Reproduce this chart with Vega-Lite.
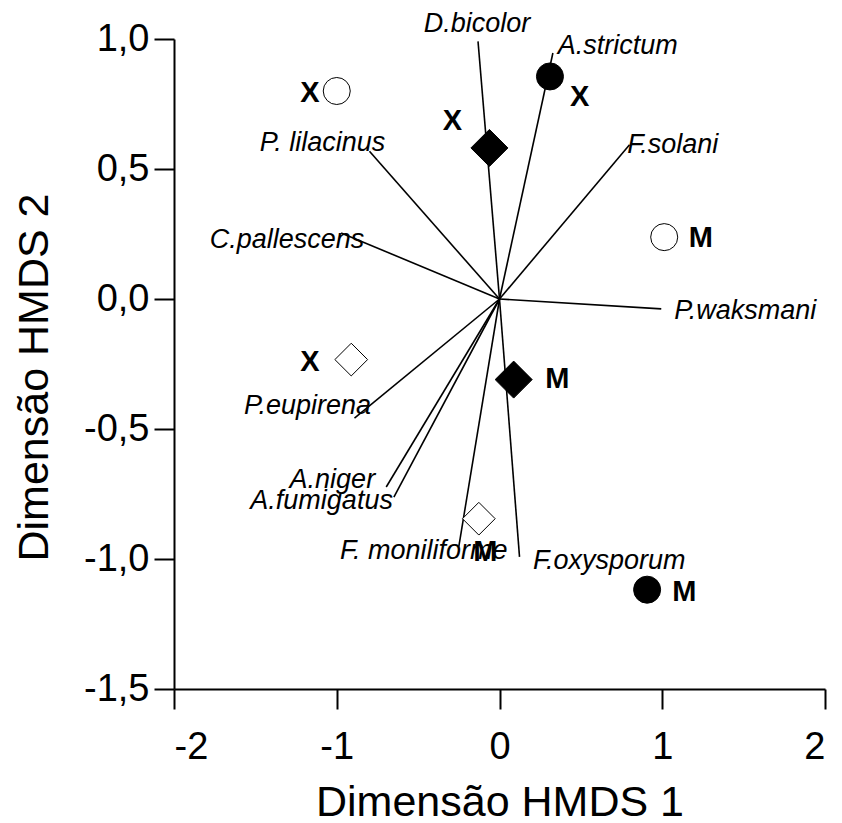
{
  "$schema": "https://vega.github.io/schema/vega-lite/v6.json",
  "autosize": "none",
  "width": 651,
  "height": 650,
  "padding": {"left": 174, "top": 39, "right": 17, "bottom": 134},
  "background": "white",
  "config": {
    "view": {"stroke": null},
    "font": "Liberation Sans",
    "axis": {
      "grid": false,
      "domainColor": "black",
      "domainWidth": 2,
      "tickColor": "black",
      "tickWidth": 2,
      "tickSize": 20,
      "labelColor": "black",
      "labelFont": "Liberation Sans",
      "labelFontSize": 38,
      "titleColor": "black",
      "titleFont": "Liberation Sans",
      "titleFontSize": 43,
      "titleFontWeight": "normal"
    }
  },
  "datasets": {
    "vetores": [
      {"especie": "D.bicolor", "x": -0.132, "y": 0.991, "lx": -0.138, "ly": 1.059},
      {"especie": "A.strictum", "x": 0.328, "y": 0.946, "lx": 0.727, "ly": 0.972},
      {"especie": "F.solani", "x": 0.799, "y": 0.593, "lx": 1.065, "ly": 0.593},
      {"especie": "P.waksmani", "x": 0.994, "y": -0.038, "lx": 1.51, "ly": -0.048},
      {"especie": "P. lilacinus", "x": -0.799, "y": 0.568, "lx": -1.088, "ly": 0.6},
      {"especie": "C.pallescens", "x": -0.973, "y": 0.254, "lx": -1.306, "ly": 0.228},
      {"especie": "P.eupirena", "x": -0.891, "y": -0.458, "lx": -1.18, "ly": -0.413},
      {"especie": "A.niger", "x": -0.696, "y": -0.723, "lx": -1.027, "ly": -0.695},
      {"especie": "A.fumigatus", "x": -0.649, "y": -0.762, "lx": -1.093, "ly": -0.778},
      {"especie": "F. moniliforme", "x": -0.25, "y": -0.952, "lx": -0.466, "ly": -0.971},
      {"especie": "F.oxysporum", "x": 0.123, "y": -0.992, "lx": 0.674, "ly": -1.009}
    ],
    "amostras": [
      {"x": -1.0, "y": 0.8, "forma": "circle", "preench": "aberto", "rotulo": "X", "lx": -1.165, "ly": 0.792},
      {"x": 0.31, "y": 0.856, "forma": "circle", "preench": "cheio", "rotulo": "X", "lx": 0.493, "ly": 0.777},
      {"x": -0.062, "y": 0.581, "forma": "diamond", "preench": "cheio", "rotulo": "X", "lx": -0.29, "ly": 0.683},
      {"x": 1.012, "y": 0.238, "forma": "circle", "preench": "aberto", "rotulo": "M", "lx": 1.237, "ly": 0.235},
      {"x": -0.911, "y": -0.233, "forma": "diamond", "preench": "aberto", "rotulo": "X", "lx": -1.165, "ly": -0.242},
      {"x": 0.087, "y": -0.31, "forma": "diamond", "preench": "cheio", "rotulo": "M", "lx": 0.355, "ly": -0.308},
      {"x": -0.127, "y": -0.845, "forma": "diamond", "preench": "aberto", "rotulo": "M", "lx": -0.087, "ly": -0.973},
      {"x": 0.907, "y": -1.118, "forma": "circle", "preench": "cheio", "rotulo": "M", "lx": 1.135, "ly": -1.125}
    ]
  },
  "layer": [
    {
      "data": {"name": "vetores"},
      "mark": {"type": "rule", "color": "black", "strokeWidth": 1.6},
      "encoding": {
        "x": {
          "field": "x", "type": "quantitative",
          "scale": {"domain": [-2, 2], "nice": false, "zero": false},
          "axis": {
            "values": [-2, -1, 0, 1, 2],
            "title": "Dimensão HMDS 1",
            "labelExpr": "(datum.value < 0 ? '-' : '') + format(abs(datum.value), 'd')",
            "labelPadding": 19,
            "titlePadding": 15
          }
        },
        "y": {
          "field": "y", "type": "quantitative",
          "scale": {"domain": [-1.5, 1.0], "nice": false, "zero": false},
          "axis": {
            "values": [-1.5, -1.0, -0.5, 0, 0.5, 1.0],
            "title": "Dimensão HMDS 2",
            "labelExpr": "(datum.value < 0 ? '-' : '') + replace(format(abs(datum.value), '.1f'), '.', ',')",
            "labelPadding": 5,
            "titlePadding": 27,
            "titleY": 338
          }
        },
        "x2": {"datum": 0},
        "y2": {"datum": 0}
      }
    },
    {
      "data": {"name": "vetores"},
      "mark": {"type": "text", "fontStyle": "italic", "fontSize": 27, "align": "center", "baseline": "middle", "color": "black"},
      "encoding": {
        "x": {"field": "lx", "type": "quantitative"},
        "y": {"field": "ly", "type": "quantitative"},
        "text": {"field": "especie"}
      }
    },
    {
      "data": {"name": "amostras"},
      "mark": {"type": "point", "filled": true, "stroke": "black", "strokeWidth": 1, "opacity": 1},
      "encoding": {
        "x": {"field": "x", "type": "quantitative"},
        "y": {"field": "y", "type": "quantitative"},
        "shape": {"field": "forma", "type": "nominal", "scale": {"domain": ["circle", "diamond"], "range": ["circle", "diamond"]}, "legend": null},
        "fill": {"condition": {"test": "datum.preench == 'cheio'", "value": "black"}, "value": "white"},
        "size": {"condition": [
          {"test": "datum.forma == 'diamond' && datum.preench == 'cheio'", "value": 1370},
          {"test": "datum.forma == 'diamond'", "value": 1070}
        ], "value": 730}
      }
    },
    {
      "data": {"name": "amostras"},
      "mark": {"type": "text", "fontWeight": "bold", "fontSize": 29, "align": "center", "baseline": "middle", "color": "black"},
      "encoding": {
        "x": {"field": "lx", "type": "quantitative"},
        "y": {"field": "ly", "type": "quantitative"},
        "text": {"field": "rotulo"}
      }
    }
  ]
}
